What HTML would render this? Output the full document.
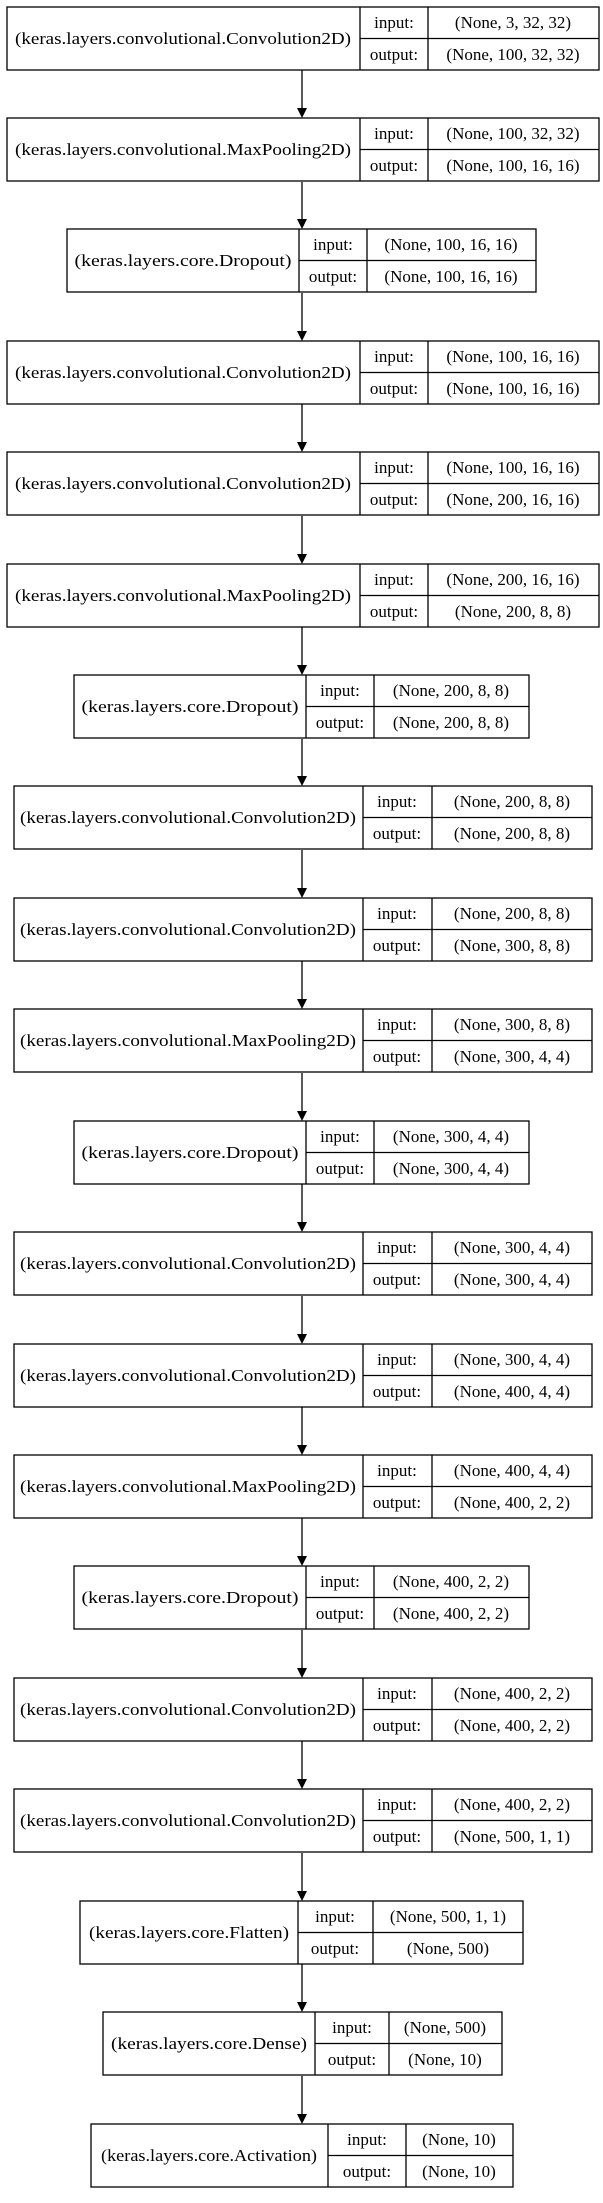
<!DOCTYPE html>
<html><head><meta charset="utf-8"><style>
html,body{margin:0;padding:0;background:#fff;}
svg{display:block;}
text{font-family:"Liberation Serif",serif;font-size:17px;fill:#000;}
</style></head><body>
<svg width="603" height="2203" viewBox="0 0 603 2203" xmlns="http://www.w3.org/2000/svg">
<g stroke="#000" stroke-width="1.3" fill="none">
<path d="M302 70V108 M302 182V219 M302 293V331 M302 404V442 M302 516V554 M302 627V665 M302 739V776 M302 850V888 M302 961V999 M302 1073V1111 M302 1184V1222 M302 1296V1334 M302 1407V1445 M302 1518V1556 M302 1630V1668 M302 1741V1779 M302 1853V1891 M302 1964V2002 M302 2076V2114"/>
</g>
<g fill="#000">
<polygon points="297,108 307,108 302,118"/><polygon points="297,219 307,219 302,229"/><polygon points="297,331 307,331 302,341"/><polygon points="297,442 307,442 302,452"/><polygon points="297,554 307,554 302,564"/><polygon points="297,665 307,665 302,675"/><polygon points="297,776 307,776 302,786"/><polygon points="297,888 307,888 302,898"/><polygon points="297,999 307,999 302,1009"/><polygon points="297,1111 307,1111 302,1121"/><polygon points="297,1222 307,1222 302,1232"/><polygon points="297,1334 307,1334 302,1344"/><polygon points="297,1445 307,1445 302,1455"/><polygon points="297,1556 307,1556 302,1566"/><polygon points="297,1668 307,1668 302,1678"/><polygon points="297,1779 307,1779 302,1789"/><polygon points="297,1891 307,1891 302,1901"/><polygon points="297,2002 307,2002 302,2012"/><polygon points="297,2114 307,2114 302,2124"/>
</g>

<g stroke="#000" stroke-width="1.3" fill="none">
<rect x="7" y="7" width="592" height="63"/><path d="M360 7V70 M428 7V70 M360 38.5H599"/>
<rect x="7" y="118" width="592" height="63"/><path d="M360 118V181 M428 118V181 M360 149.5H599"/>
<rect x="67" y="229" width="469" height="63"/><path d="M299 229V292 M367 229V292 M299 260.5H536"/>
<rect x="7" y="341" width="592" height="63"/><path d="M360 341V404 M428 341V404 M360 372.5H599"/>
<rect x="7" y="452" width="592" height="63"/><path d="M360 452V515 M428 452V515 M360 483.5H599"/>
<rect x="7" y="564" width="592" height="63"/><path d="M360 564V627 M428 564V627 M360 595.5H599"/>
<rect x="74" y="675" width="455" height="63"/><path d="M306 675V738 M374 675V738 M306 706.5H529"/>
<rect x="14" y="786" width="578" height="63"/><path d="M363 786V849 M432 786V849 M363 817.5H592"/>
<rect x="14" y="898" width="578" height="63"/><path d="M363 898V961 M432 898V961 M363 929.5H592"/>
<rect x="14" y="1009" width="578" height="63"/><path d="M363 1009V1072 M432 1009V1072 M363 1040.5H592"/>
<rect x="74" y="1121" width="455" height="63"/><path d="M306 1121V1184 M374 1121V1184 M306 1152.5H529"/>
<rect x="14" y="1232" width="578" height="63"/><path d="M363 1232V1295 M432 1232V1295 M363 1263.5H592"/>
<rect x="14" y="1344" width="578" height="63"/><path d="M363 1344V1407 M432 1344V1407 M363 1375.5H592"/>
<rect x="14" y="1455" width="578" height="63"/><path d="M363 1455V1518 M432 1455V1518 M363 1486.5H592"/>
<rect x="74" y="1566" width="455" height="63"/><path d="M306 1566V1629 M374 1566V1629 M306 1597.5H529"/>
<rect x="14" y="1678" width="578" height="63"/><path d="M363 1678V1741 M432 1678V1741 M363 1709.5H592"/>
<rect x="14" y="1789" width="578" height="63"/><path d="M363 1789V1852 M432 1789V1852 M363 1820.5H592"/>
<rect x="80" y="1901" width="443" height="63"/><path d="M298 1901V1964 M373 1901V1964 M298 1932.5H523"/>
<rect x="103" y="2012" width="399" height="63"/><path d="M315 2012V2075 M389 2012V2075 M315 2043.5H502"/>
<rect x="91" y="2124" width="422" height="63"/><path d="M328 2124V2187 M406 2124V2187 M328 2155.5H513"/>
</g>

<g text-anchor="middle">
<text x="183" y="44" textLength="336" lengthAdjust="spacingAndGlyphs">(keras.layers.convolutional.Convolution2D)</text>
<text x="394" y="28">input:</text><text x="394" y="60">output:</text>
<text x="513" y="28">(None, 3, 32, 32)</text><text x="513" y="60">(None, 100, 32, 32)</text>
<text x="183" y="155" textLength="336" lengthAdjust="spacingAndGlyphs">(keras.layers.convolutional.MaxPooling2D)</text>
<text x="394" y="139">input:</text><text x="394" y="171">output:</text>
<text x="513" y="139">(None, 100, 32, 32)</text><text x="513" y="171">(None, 100, 16, 16)</text>
<text x="183" y="266" textLength="217" lengthAdjust="spacingAndGlyphs">(keras.layers.core.Dropout)</text>
<text x="333" y="250">input:</text><text x="333" y="282">output:</text>
<text x="451" y="250">(None, 100, 16, 16)</text><text x="451" y="282">(None, 100, 16, 16)</text>
<text x="183" y="378" textLength="336" lengthAdjust="spacingAndGlyphs">(keras.layers.convolutional.Convolution2D)</text>
<text x="394" y="362">input:</text><text x="394" y="394">output:</text>
<text x="513" y="362">(None, 100, 16, 16)</text><text x="513" y="394">(None, 100, 16, 16)</text>
<text x="183" y="489" textLength="336" lengthAdjust="spacingAndGlyphs">(keras.layers.convolutional.Convolution2D)</text>
<text x="394" y="473">input:</text><text x="394" y="505">output:</text>
<text x="513" y="473">(None, 100, 16, 16)</text><text x="513" y="505">(None, 200, 16, 16)</text>
<text x="183" y="601" textLength="336" lengthAdjust="spacingAndGlyphs">(keras.layers.convolutional.MaxPooling2D)</text>
<text x="394" y="585">input:</text><text x="394" y="617">output:</text>
<text x="513" y="585">(None, 200, 16, 16)</text><text x="513" y="617">(None, 200, 8, 8)</text>
<text x="190" y="712" textLength="217" lengthAdjust="spacingAndGlyphs">(keras.layers.core.Dropout)</text>
<text x="340" y="696">input:</text><text x="340" y="728">output:</text>
<text x="451" y="696">(None, 200, 8, 8)</text><text x="451" y="728">(None, 200, 8, 8)</text>
<text x="188" y="823" textLength="336" lengthAdjust="spacingAndGlyphs">(keras.layers.convolutional.Convolution2D)</text>
<text x="397" y="807">input:</text><text x="397" y="839">output:</text>
<text x="512" y="807">(None, 200, 8, 8)</text><text x="512" y="839">(None, 200, 8, 8)</text>
<text x="188" y="935" textLength="336" lengthAdjust="spacingAndGlyphs">(keras.layers.convolutional.Convolution2D)</text>
<text x="397" y="919">input:</text><text x="397" y="951">output:</text>
<text x="512" y="919">(None, 200, 8, 8)</text><text x="512" y="951">(None, 300, 8, 8)</text>
<text x="188" y="1046" textLength="336" lengthAdjust="spacingAndGlyphs">(keras.layers.convolutional.MaxPooling2D)</text>
<text x="397" y="1030">input:</text><text x="397" y="1062">output:</text>
<text x="512" y="1030">(None, 300, 8, 8)</text><text x="512" y="1062">(None, 300, 4, 4)</text>
<text x="190" y="1158" textLength="217" lengthAdjust="spacingAndGlyphs">(keras.layers.core.Dropout)</text>
<text x="340" y="1142">input:</text><text x="340" y="1174">output:</text>
<text x="451" y="1142">(None, 300, 4, 4)</text><text x="451" y="1174">(None, 300, 4, 4)</text>
<text x="188" y="1269" textLength="336" lengthAdjust="spacingAndGlyphs">(keras.layers.convolutional.Convolution2D)</text>
<text x="397" y="1253">input:</text><text x="397" y="1285">output:</text>
<text x="512" y="1253">(None, 300, 4, 4)</text><text x="512" y="1285">(None, 300, 4, 4)</text>
<text x="188" y="1381" textLength="336" lengthAdjust="spacingAndGlyphs">(keras.layers.convolutional.Convolution2D)</text>
<text x="397" y="1365">input:</text><text x="397" y="1397">output:</text>
<text x="512" y="1365">(None, 300, 4, 4)</text><text x="512" y="1397">(None, 400, 4, 4)</text>
<text x="188" y="1492" textLength="336" lengthAdjust="spacingAndGlyphs">(keras.layers.convolutional.MaxPooling2D)</text>
<text x="397" y="1476">input:</text><text x="397" y="1508">output:</text>
<text x="512" y="1476">(None, 400, 4, 4)</text><text x="512" y="1508">(None, 400, 2, 2)</text>
<text x="190" y="1603" textLength="217" lengthAdjust="spacingAndGlyphs">(keras.layers.core.Dropout)</text>
<text x="340" y="1587">input:</text><text x="340" y="1619">output:</text>
<text x="451" y="1587">(None, 400, 2, 2)</text><text x="451" y="1619">(None, 400, 2, 2)</text>
<text x="188" y="1715" textLength="336" lengthAdjust="spacingAndGlyphs">(keras.layers.convolutional.Convolution2D)</text>
<text x="397" y="1699">input:</text><text x="397" y="1731">output:</text>
<text x="512" y="1699">(None, 400, 2, 2)</text><text x="512" y="1731">(None, 400, 2, 2)</text>
<text x="188" y="1826" textLength="336" lengthAdjust="spacingAndGlyphs">(keras.layers.convolutional.Convolution2D)</text>
<text x="397" y="1810">input:</text><text x="397" y="1842">output:</text>
<text x="512" y="1810">(None, 400, 2, 2)</text><text x="512" y="1842">(None, 500, 1, 1)</text>
<text x="189" y="1938" textLength="200" lengthAdjust="spacingAndGlyphs">(keras.layers.core.Flatten)</text>
<text x="335" y="1922">input:</text><text x="335" y="1954">output:</text>
<text x="448" y="1922">(None, 500, 1, 1)</text><text x="448" y="1954">(None, 500)</text>
<text x="209" y="2049" textLength="196" lengthAdjust="spacingAndGlyphs">(keras.layers.core.Dense)</text>
<text x="352" y="2033">input:</text><text x="352" y="2065">output:</text>
<text x="445" y="2033">(None, 500)</text><text x="445" y="2065">(None, 10)</text>
<text x="209" y="2161" textLength="216" lengthAdjust="spacingAndGlyphs">(keras.layers.core.Activation)</text>
<text x="367" y="2145">input:</text><text x="367" y="2177">output:</text>
<text x="459" y="2145">(None, 10)</text><text x="459" y="2177">(None, 10)</text>
</g>
</svg>
</body></html>
